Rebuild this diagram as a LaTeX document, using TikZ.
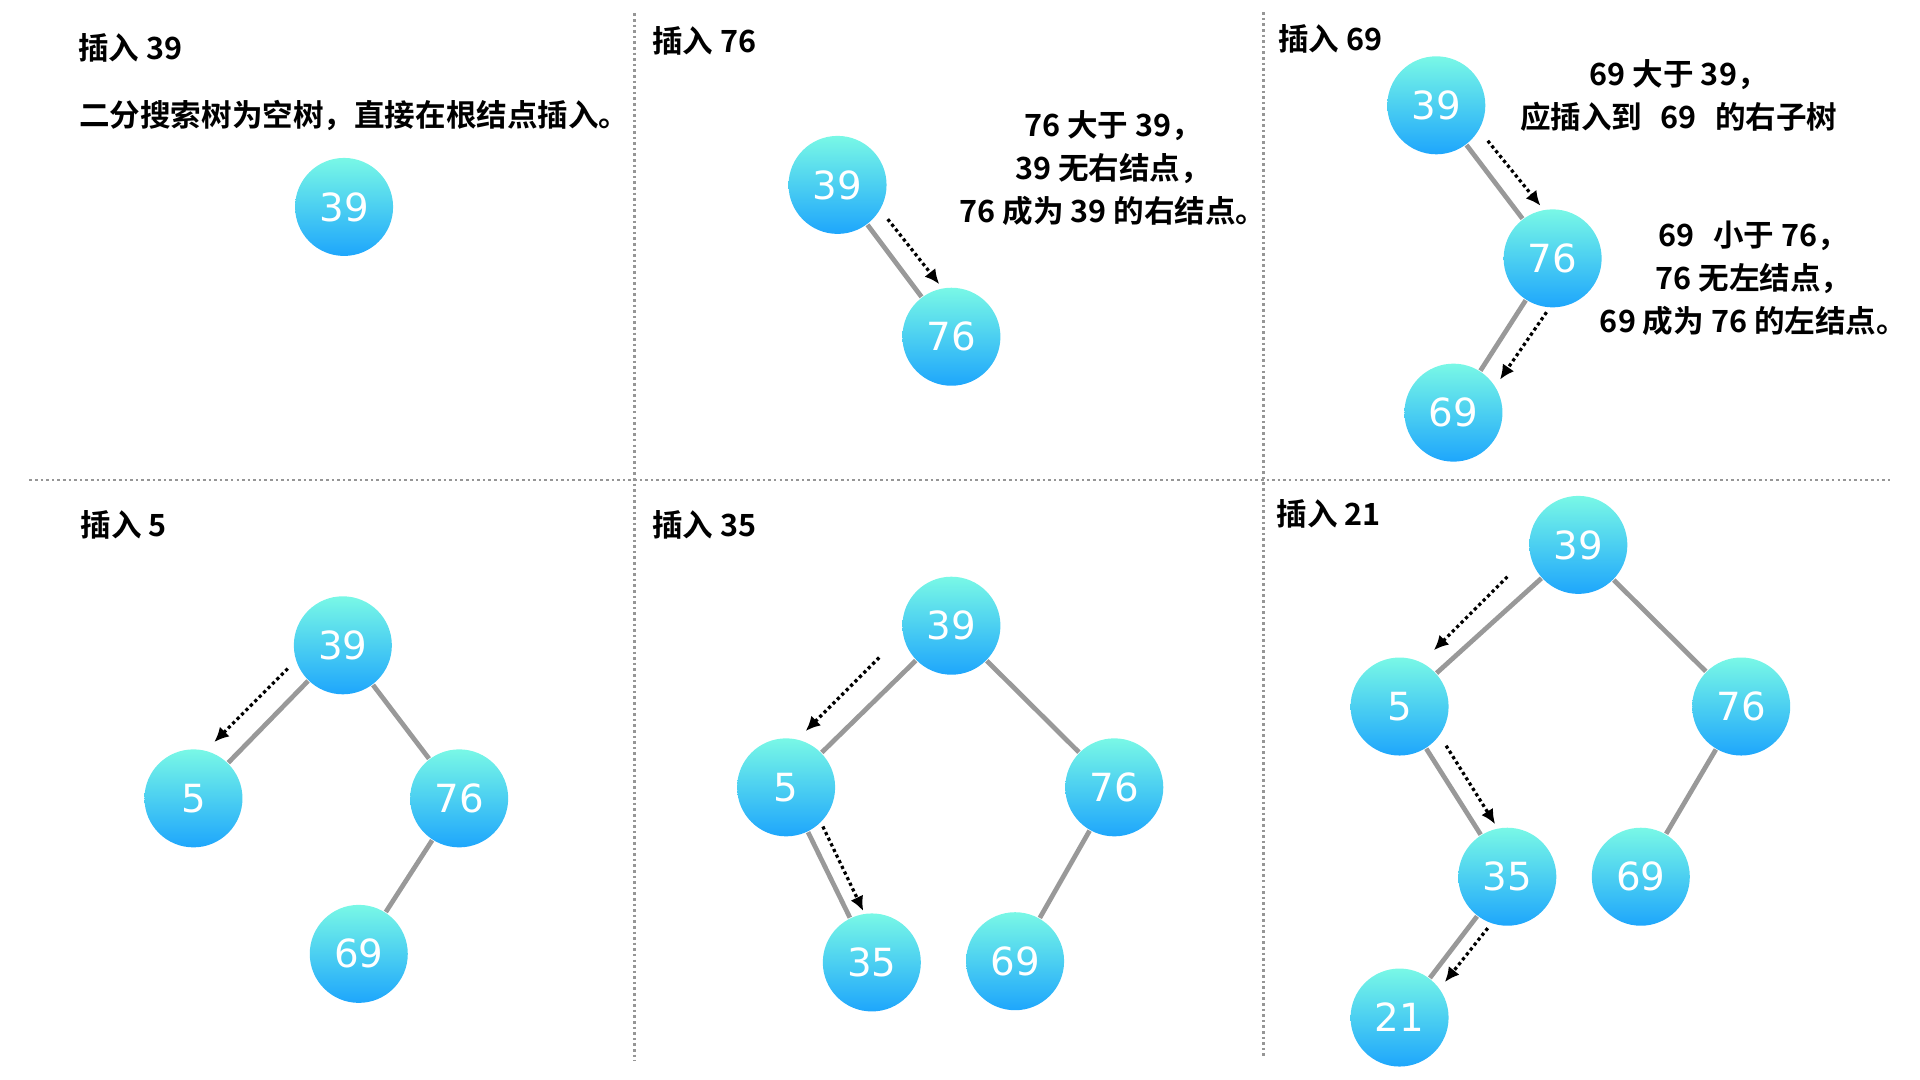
\documentclass[tikz,border=0pt]{standalone}
\usepackage{fontspec}
\usepackage{tikz}
\usetikzlibrary{arrows.meta}
\newfontfamily\cjkfont{Noto Sans CJK SC Bold}
\newfontfamily\numfont{DejaVu Sans}
\definecolor{nodetop}{RGB}{121,248,230}
\definecolor{nodebot}{RGB}{30,166,252}
\definecolor{linkgray}{RGB}{153,153,153}
\definecolor{sepgray}{RGB}{150,150,150}
\tikzset{
 bst/.style={circle, minimum size=0.8cm, inner sep=0pt, top color=nodetop, bottom color=nodebot, text=white, font=\numfont\fontsize{9}{10}\selectfont},
 link/.style={draw=linkgray, line width=1.1pt},
 walk/.style={-{Latex[length=3.4pt,width=3.2pt]}, line width=0.75pt, dash pattern=on 0.75pt off 0.7pt},
 sep/.style={draw=sepgray, line width=0.6pt, dash pattern=on 0.6pt off 0.7pt},
 title/.style={anchor=west, inner sep=0pt, font=\cjkfont\fontsize{7.1}{9.96}\selectfont},
 note/.style={align=center, inner sep=0pt, font=\cjkfont\fontsize{7.1}{9.96}\selectfont},
}

\begin{document}
\begin{tikzpicture}[x=0.01cm, y=-0.01cm]
 \useasboundingbox (0,0) rectangle (1568,882);
 % separators
 \draw[sep] (518,11) -- (518,866);
 \draw[sep] (1032,10) -- (1032,863);
 \draw[sep] (24,392) -- (1545,392);

 % insert 39
 \node[title] (t39) at (63,39) {插入 39};
 \node[title] (s39) at (64,94) {二分搜索树为空树，直接在根结点插入。};
 \node[bst] (a39) at (281,169) {39};

 % insert 76
 \node[title] (t76) at (532,33) {插入 76};
 \node[bst] (b39) at (684,151) {39};
 \node[bst] (b76) at (777,275) {76};
 \draw[link] (b39) -- (b76);
 \coordinate (bw1) at (725,179);
 \coordinate (bw2) at (767,232);
 \draw[walk] (bw1) -- (bw2);
 \node[note] (s76) at (909,137.5) {76 大于 39，\\39 无右结点，\\76 成为 39 的右结点。};

 % insert 69
 \node[title] (t69) at (1043,32) {插入 69};
 \node[bst] (c39) at (1173,86) {39};
 \node[bst] (c76) at (1268,211) {76};
 \node[bst] (c69) at (1187,337) {69};
 \draw[link] (c39) -- (c76);
 \draw[link] (c76) -- (c69);
 \coordinate (cw1) at (1215,115);
 \coordinate (cw2) at (1258,168);
 \draw[walk] (cw1) -- (cw2);
 \coordinate (cw3) at (1263,255);
 \coordinate (cw4) at (1225,310);
 \draw[walk] (cw3) -- (cw4);
 \node[note] (s69a) at (1371,78) {69 大于 39，\\应插入到\hspace{0.6em}69\hspace{0.6em}的右子树};
 \node[note] (s69b) at (1432,227) {69\hspace{0.6em}小于 76，\\76 无左结点，\\69 成为 76 的左结点。};

 % insert 5
 \node[title] (t5) at (65,429) {插入 5};
 \node[bst] (d39) at (280,527) {39};
 \node[bst] (d5) at (158,652) {5};
 \node[bst] (d76) at (375,652) {76};
 \node[bst] (d69) at (293,779) {69};
 \draw[link] (d39) -- (d5);
 \draw[link] (d39) -- (d76);
 \draw[link] (d76) -- (d69);
 \coordinate (dw1) at (235,546);
 \coordinate (dw2) at (175,606);
 \draw[walk] (dw1) -- (dw2);

 % insert 35
 \node[title] (t35) at (532,429) {插入 35};
 \node[bst] (e39) at (777,511) {39};
 \node[bst] (e5) at (642,643) {5};
 \node[bst] (e76) at (910,643) {76};
 \node[bst] (e35) at (712,786) {35};
 \node[bst] (e69) at (829,785) {69};
 \draw[link] (e39) -- (e5);
 \draw[link] (e39) -- (e76);
 \draw[link] (e5) -- (e35);
 \draw[link] (e76) -- (e69);
 \coordinate (ew1) at (718,537);
 \coordinate (ew2) at (658,597);
 \draw[walk] (ew1) -- (ew2);
 \coordinate (ew3) at (672,675);
 \coordinate (ew4) at (705,744);
 \draw[walk] (ew3) -- (ew4);

 % insert 21
 \node[title] (t21) at (1042,420) {插入 21};
 \node[bst] (f39) at (1289,445) {39};
 \node[bst] (f5) at (1143,577) {5};
 \node[bst] (f76) at (1422,577) {76};
 \node[bst] (f35) at (1231,716) {35};
 \node[bst] (f69) at (1340,716) {69};
 \node[bst] (f21) at (1143,831) {21};
 \draw[link] (f39) -- (f5);
 \draw[link] (f39) -- (f76);
 \draw[link] (f5) -- (f35);
 \draw[link] (f76) -- (f69);
 \draw[link] (f35) -- (f21);
 \coordinate (fw1) at (1231,471);
 \coordinate (fw2) at (1171,531);
 \draw[walk] (fw1) -- (fw2);
 \coordinate (fw3) at (1181,609);
 \coordinate (fw4) at (1221,673);
 \draw[walk] (fw3) -- (fw4);
 \coordinate (fw5) at (1215,758);
 \coordinate (fw6) at (1180,802);
 \draw[walk] (fw5) -- (fw6);
\end{tikzpicture}
\end{document}
